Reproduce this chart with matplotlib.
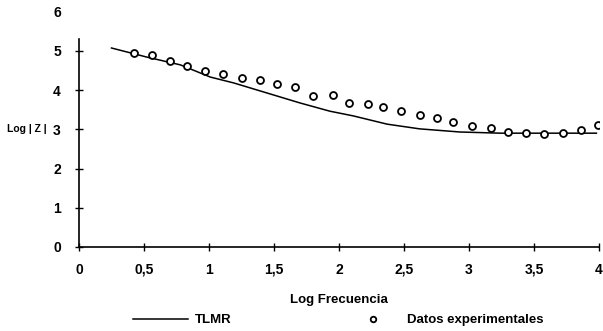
import numpy as np
from matplotlib import pyplot as plt

plt.rcParams['font.family'] = ['Liberation Sans', 'DejaVu Sans']

# TLMR model curve (log frequency, log |Z|)
tlmr_x = [0.25, 0.52, 0.78, 1.01, 1.19, 1.45, 1.70, 1.93, 2.11, 2.37, 2.62, 2.93, 3.24, 3.60, 3.98]
tlmr_y = [5.07, 4.84, 4.64, 4.33, 4.18, 3.92, 3.67, 3.46, 3.34, 3.13, 3.01, 2.93, 2.90, 2.90, 2.90]

# experimental data
exp_x = [0.42, 0.56, 0.70, 0.83, 0.97, 1.11, 1.25, 1.39, 1.52, 1.66, 1.80, 1.95, 2.08, 2.22,
         2.34, 2.48, 2.62, 2.75, 2.88, 3.02, 3.17, 3.30, 3.44, 3.58, 3.72, 3.86, 3.99]
exp_y = [4.94, 4.89, 4.74, 4.61, 4.48, 4.41, 4.31, 4.25, 4.15, 4.08, 3.85, 3.87, 3.67, 3.64,
         3.57, 3.46, 3.36, 3.29, 3.18, 3.08, 3.03, 2.93, 2.90, 2.88, 2.90, 2.98, 3.11]

x_ticks = [0, 0.5, 1, 1.5, 2, 2.5, 3, 3.5, 4]
x_tick_labels = ["0", "0,5", "1", "1,5", "2", "2,5", "3", "3,5", "4"]
y_ticks = [0, 1, 2, 3, 4, 5, 6]

fig = plt.figure(figsize=(6.03, 3.31), dpi=100)
ax = fig.add_axes([79 / 603, 84 / 331, 520 / 603, 235.5 / 331])

ax.plot(tlmr_x, tlmr_y, '-', color='black', linewidth=1.1, label="TLMR")
ax.plot(exp_x, exp_y, 'o', markersize=5, markerfacecolor='white', markeredgecolor='black',
        markeredgewidth=1.3, label="Datos experimentales")

ax.set_xlim(0, 4)
ax.set_ylim(0, 6)
ax.set_xticks(x_ticks)
ax.set_xticklabels(x_tick_labels)
ax.set_yticks(y_ticks)

for side in ['top', 'right']:
    ax.spines[side].set_visible(False)
for side in ['left', 'bottom']:
    ax.spines[side].set_linewidth(1.2)
ax.spines['left'].set_bounds(0, 5.3)
ax.yaxis.get_major_ticks()[-1].tick1line.set_visible(False)

ax.tick_params(axis='x', direction='inout', length=6, width=1, pad=8.5, labelsize=10)
ax.tick_params(axis='y', direction='inout', length=6, width=1, pad=10, labelsize=10)
for lbl in ax.get_xticklabels() + ax.get_yticklabels():
    lbl.set_fontweight('bold')

ax.set_xlabel("Log Frecuencia", fontsize=9.5, fontweight='bold', labelpad=12)
fig.text(7 / 603, 1 - 129 / 331, "Log | Z |", fontsize=7.5, fontweight='bold',
         ha='left', va='center')

leg = ax.legend(ncol=2, loc='center', bbox_to_anchor=(338 / 603, 1 - 320 / 331),
                bbox_transform=fig.transFigure, frameon=False, handlelength=4.2,
                handletextpad=0.5, columnspacing=8.6, markerscale=0.8,
                prop={'size': 9.5, 'weight': 'bold'})

fig.savefig("out.png", dpi=100)
